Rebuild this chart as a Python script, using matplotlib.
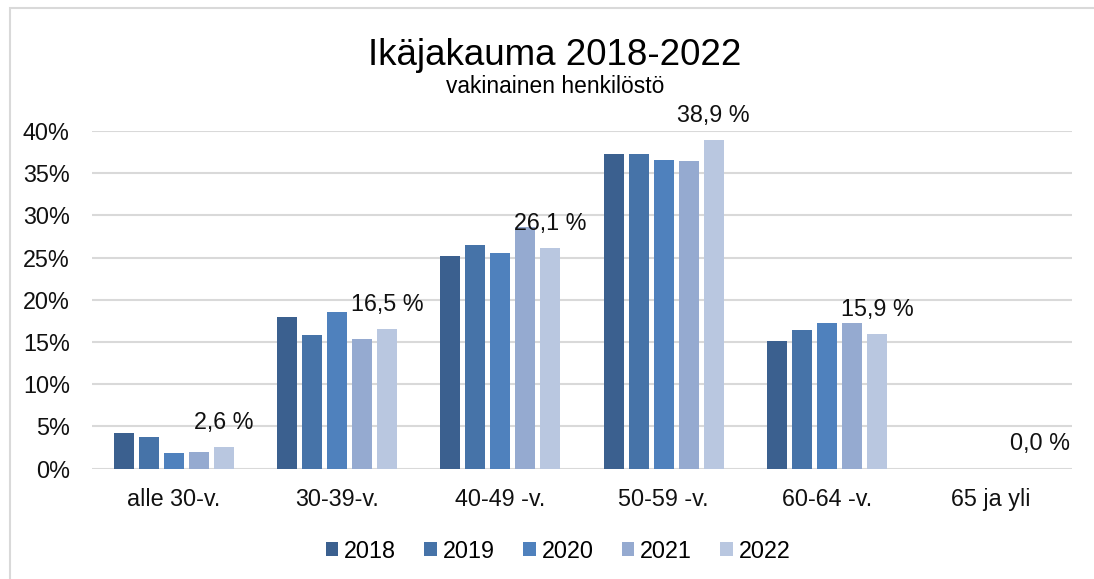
import matplotlib
matplotlib.use("Agg")
import matplotlib.pyplot as plt
from matplotlib.patches import Rectangle
from matplotlib.ticker import FuncFormatter
import numpy as np

plt.rcParams['font.family'] = ['Liberation Sans', 'DejaVu Sans']

categories = ['alle 30-v.', '30-39-v.', '40-49 -v.', '50-59 -v.', '60-64 -v.', '65 ja yli']
years = ['2018', '2019', '2020', '2021', '2022']
v2018 = [4.2, 18.0, 25.2, 37.3, 15.1, 0.0]
v2019 = [3.7, 15.8, 26.5, 37.3, 16.4, 0.0]
v2020 = [1.8, 18.6, 25.5, 36.6, 17.3, 0.0]
v2021 = [1.9, 15.3, 28.6, 36.5, 17.3, 0.0]
v2022 = [2.6, 16.5, 26.1, 38.9, 15.9, 0.0]
colors = ['#3B608F', '#4673A8', '#4F81BD', '#95AAD0', '#B9C7E0']

series = [v2018, v2019, v2020, v2021, v2022]

fig = plt.figure(figsize=(10.94, 5.79), dpi=100)
ax = fig.add_axes([92/1094, 1 - 468.5/579, 980/1094, 337.5/579])

# outer chart border (cropped excel chart)
fig.patches.append(Rectangle((10/1094, -0.1), 1.2, 1 - 8/579 + 0.1, transform=fig.transFigure,
                             fill=False, edgecolor='#D9D9D9', linewidth=1.5))

x = np.arange(len(categories))
step = 0.153
width = 0.122
bars = []
for i, (vals, yr, c) in enumerate(zip(series, years, colors)):
    b = ax.bar(x + (i - 2) * step, vals, width=width, color=c, label=yr, zorder=3)
    bars.append(b)

# labels only for last year
for xi, v in zip(x + 2 * step, v2022):
    ax.annotate(f"{v:.1f} %".replace('.', ','), (xi, v), xytext=(0, 13), textcoords='offset points',
                ha='center', va='baseline', fontsize=16.8, color='#111111', zorder=4)

ax.set_xlim(-0.5, len(categories) - 0.5)
ax.set_ylim(0, 40)
ax.set_yticks(np.arange(0, 41, 5))
ax.yaxis.set_major_formatter(FuncFormatter(lambda v, p: f"{v:.0f}%"))
ax.set_xticks(x)
ax.set_xticklabels(categories)
ax.tick_params(axis='both', length=0, labelsize=16.8, colors='#111111')
ax.tick_params(axis='x', pad=14)
ax.tick_params(axis='y', pad=16)
ax.grid(axis='y', color='#D9D9D9', linewidth=1.5, zorder=0)
for s in ax.spines.values():
    s.set_visible(False)
ax.set_facecolor('none')

fig.text(555/1094, 1 - 65/579, 'Ikäjakauma 2018-2022', ha='center', va='baseline', fontsize=26.5, color='#000000')
fig.text(555/1094, 1 - 93/579, 'vakinainen henkilöstö', ha='center', va='baseline', fontsize=16.4, color='#000000')

fig.legend(handles=bars, labels=years, loc='center', bbox_to_anchor=(558/1094, 1 - 551/579), ncol=5,
           frameon=False, fontsize=16.8, handlelength=0.55, handleheight=0.55, handletextpad=0.25,
           columnspacing=1.2)

fig.savefig('out.png', dpi=100)
